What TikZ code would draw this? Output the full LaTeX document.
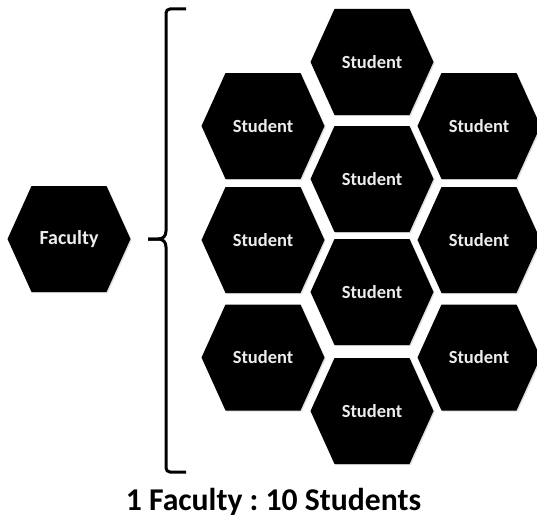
\documentclass[tikz,border=0pt]{standalone}
\usepackage{fontspec}
\setmainfont{Carlito}
\usetikzlibrary{shadows}
\frenchspacing
\tikzset{
  hexshape/.style={fill=black, drop shadow={shadow xshift=1.2pt, shadow yshift=-1.2pt, opacity=0.25, fill=gray}},
  hexlabel/.style={text=white!93!black, font=\bfseries\fontsize{18.5}{20}\selectfont, inner sep=0pt},
  facultylabel/.style={hexlabel, font=\bfseries\fontsize{20}{22}\selectfont},
  bracketline/.style={line width=3pt, black},
  titletext/.style={font=\bfseries\fontsize{31.7}{34}\selectfont, anchor=base, inner sep=0pt}
}
\newcommand\hexcell[5]{%
  \fill[hexshape] (#2,#3) ++(-61.5,0) -- ++(24,-53) -- ++(75,0) -- ++(24,53) -- ++(-24,53) -- ++(-75,0) -- cycle;
  \node[#5] (#1) at (#2,#3) {#4};}
\begin{document}
\begin{tikzpicture}[x=1pt,y=-1pt]
\useasboundingbox (0,0) rectangle (537,519);
% faculty
\hexcell{faculty}{69}{239}{Faculty}{facultylabel}
% middle column
\hexcell{s1}{372}{62}{Student}{hexlabel}
\hexcell{s2}{372}{179}{Student}{hexlabel}
\hexcell{s3}{372}{292}{Student}{hexlabel}
\hexcell{s4}{372}{411}{Student}{hexlabel}
% left column
\hexcell{s5}{263}{126}{Student}{hexlabel}
\hexcell{s6}{263}{240}{Student}{hexlabel}
\hexcell{s7}{263}{357.5}{Student}{hexlabel}
% right column
\hexcell{s8}{479}{126}{Student}{hexlabel}
\hexcell{s9}{479}{240}{Student}{hexlabel}
\hexcell{s10}{479}{357.5}{Student}{hexlabel}
% bracket
\coordinate (btop) at (186,9);
\coordinate (bbot) at (186,472);
\coordinate (btip) at (148,239);
\draw[bracketline] (btop) [rounded corners=4pt] -- (166,9) -- (166,200) [sharp corners] -- (166,231)
  .. controls (166,236) and (163,239) .. (158,239) -- (btip);
\draw[bracketline] (btip) -- (158,239) .. controls (163,239) and (166,242) .. (166,247)
  [rounded corners=4pt] -- (166,472) -- (bbot);
% title
\node[titletext] (title) at (273.5,510.7) {1 Faculty : 10 Students};
\end{tikzpicture}
\end{document}
